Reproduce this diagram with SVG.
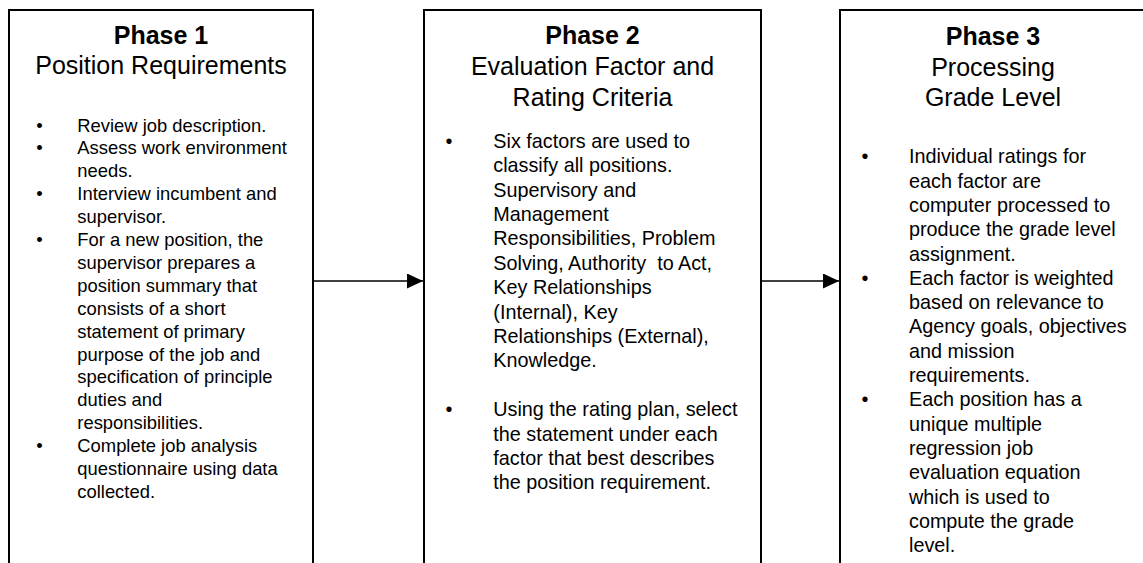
<svg xmlns="http://www.w3.org/2000/svg" width="1143" height="563" viewBox="0 0 1143 563">
<style>
.box{fill:#fff;stroke:#000;stroke-width:2}
text{font-family:"Liberation Sans",Arial,sans-serif;fill:#000}
.h{font-size:25px;text-anchor:middle}
.hb{font-weight:bold}
.b1{font-size:18.4px}
.b2{font-size:19.8px}
.bul{text-anchor:middle}
.conn{stroke:#000;stroke-width:1.6;fill:none}
</style>
<defs>
<marker id="arr" markerUnits="userSpaceOnUse" markerWidth="16" markerHeight="15" refX="16" refY="7.5" orient="auto">
<path d="M0,0 L16,7.5 L0,15 Z" fill="#000"/>
</marker>
</defs>
<rect width="1143" height="563" fill="#fff"/>
<g id="connectors">
<line class="conn" x1="313" y1="281" x2="423" y2="281" marker-end="url(#arr)"/>
<line class="conn" x1="761" y1="281" x2="839" y2="281" marker-end="url(#arr)"/>
</g>
<g id="phase1">
<rect class="box" x="9" y="10" width="304" height="600"/>
<text class="h hb" x="161" y="44.3">Phase 1</text>
<text class="h" x="161" y="74">Position Requirements</text>
<g class="b1">
<text class="bul" x="39.5" y="131.5">•</text>
<text class="bul" x="39.5" y="154.4">•</text>
<text class="bul" x="39.5" y="200.2">•</text>
<text class="bul" x="39.5" y="246">•</text>
<text class="bul" x="39.5" y="452.1">•</text>
</g>
<text class="b1" x="77.3">
<tspan x="77.3" y="131.5">Review job description.</tspan>
<tspan x="77.3" y="154.4">Assess work environment</tspan>
<tspan x="77.3" y="177.3">needs.</tspan>
<tspan x="77.3" y="200.2">Interview incumbent and</tspan>
<tspan x="77.3" y="223.1">supervisor.</tspan>
<tspan x="77.3" y="246">For a new position, the</tspan>
<tspan x="77.3" y="268.9">supervisor prepares a</tspan>
<tspan x="77.3" y="291.8">position summary that</tspan>
<tspan x="77.3" y="314.7">consists of a short</tspan>
<tspan x="77.3" y="337.6">statement of primary</tspan>
<tspan x="77.3" y="360.5">purpose of the job and</tspan>
<tspan x="77.3" y="383.4">specification of principle</tspan>
<tspan x="77.3" y="406.3">duties and</tspan>
<tspan x="77.3" y="429.2">responsibilities.</tspan>
<tspan x="77.3" y="452.1">Complete job analysis</tspan>
<tspan x="77.3" y="475">questionnaire using data</tspan>
<tspan x="77.3" y="497.9">collected.</tspan>
</text>
</g>
<g id="phase2">
<rect class="box" x="424" y="10" width="337" height="600"/>
<text class="h hb" x="592.5" y="44.3">Phase 2</text>
<text class="h" x="592.5" y="75">Evaluation Factor and</text>
<text class="h" x="592.5" y="106">Rating Criteria</text>
<g class="b2">
<text class="bul" x="449" y="147.7">•</text>
<text class="bul" x="449" y="416.1">•</text>
</g>
<text class="b2" x="493.3" xml:space="preserve">
<tspan x="493.3" y="147.7">Six factors are used to</tspan>
<tspan x="493.3" y="172.1">classify all positions.</tspan>
<tspan x="493.3" y="196.5">Supervisory and</tspan>
<tspan x="493.3" y="220.9">Management</tspan>
<tspan x="493.3" y="245.3">Responsibilities, Problem</tspan>
<tspan x="493.3" y="269.7">Solving, Authority  to Act,</tspan>
<tspan x="493.3" y="294.1">Key Relationships</tspan>
<tspan x="493.3" y="318.5">(Internal), Key</tspan>
<tspan x="493.3" y="342.9">Relationships (External),</tspan>
<tspan x="493.3" y="367.3">Knowledge.</tspan>
<tspan x="493.3" y="416.1">Using the rating plan, select</tspan>
<tspan x="493.3" y="440.5">the statement under each</tspan>
<tspan x="493.3" y="464.9">factor that best describes</tspan>
<tspan x="493.3" y="489.3">the position requirement.</tspan>
</text>
</g>
<g id="phase3">
<rect class="box" x="840" y="10" width="310" height="600"/>
<text class="h hb" x="993" y="45">Phase 3</text>
<text class="h" x="993" y="76">Processing</text>
<text class="h" x="993" y="106">Grade Level</text>
<g class="b2">
<text class="bul" x="865" y="163.3">•</text>
<text class="bul" x="865" y="284.8">•</text>
<text class="bul" x="865" y="406.3">•</text>
</g>
<text class="b2" x="909">
<tspan x="909" y="163.3">Individual ratings for</tspan>
<tspan x="909" y="187.6">each factor are</tspan>
<tspan x="909" y="211.9">computer processed to</tspan>
<tspan x="909" y="236.2">produce the grade level</tspan>
<tspan x="909" y="260.5">assignment.</tspan>
<tspan x="909" y="284.8">Each factor is weighted</tspan>
<tspan x="909" y="309.1">based on relevance to</tspan>
<tspan x="909" y="333.4">Agency goals, objectives</tspan>
<tspan x="909" y="357.7">and mission</tspan>
<tspan x="909" y="382">requirements.</tspan>
<tspan x="909" y="406.3">Each position has a</tspan>
<tspan x="909" y="430.6">unique multiple</tspan>
<tspan x="909" y="454.9">regression job</tspan>
<tspan x="909" y="479.2">evaluation equation</tspan>
<tspan x="909" y="503.5">which is used to</tspan>
<tspan x="909" y="527.8">compute the grade</tspan>
<tspan x="909" y="552.1">level.</tspan>
</text>
</g>
</svg>
